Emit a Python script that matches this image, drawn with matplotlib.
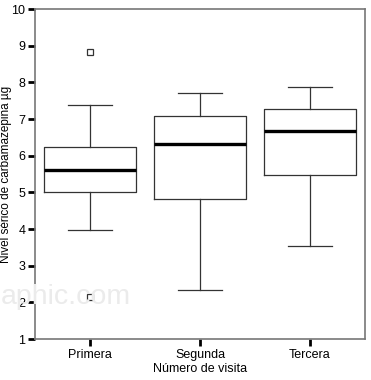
import matplotlib
matplotlib.use("Agg")
import matplotlib.pyplot as plt

plt.rcParams['font.family'] = ['Liberation Sans', 'DejaVu Sans']

visits = ["Primera", "Segunda", "Tercera"]
whislo = [3.98, 2.33, 3.55]
q1 = [5.01, 4.83, 5.47]
med = [5.61, 6.32, 6.67]
q3 = [6.23, 7.08, 7.27]
whishi = [7.38, 7.70, 7.87]
fliers = [[8.83, 2.15], [], []]

stats = []
for i in range(len(visits)):
    stats.append({"label": visits[i], "whislo": whislo[i], "q1": q1[i], "med": med[i],
                  "q3": q3[i], "whishi": whishi[i], "fliers": fliers[i]})

fig = plt.figure(figsize=(3.71, 3.80), dpi=100)
ax = fig.add_axes([35/371, 41/380, 330/371, 330/380])

line_c = "#333333"
ax.bxp(stats, positions=[1, 2, 3], widths=0.845, capwidths=0.4,
       boxprops=dict(color=line_c, lw=0.9),
       whiskerprops=dict(color=line_c, lw=0.9),
       capprops=dict(color=line_c, lw=0.9),
       medianprops=dict(color="black", lw=2.4),
       flierprops=dict(marker="s", markersize=4, markerfacecolor="white",
                       markeredgecolor=line_c, markeredgewidth=0.9))

# faint watermark left over in the source image
fig.text(0.003, 83/380, "aphic.com", fontsize=20.5, color="#ebebeb",
         ha="left", va="center", zorder=0)

ax.set_xlim(0.5, 3.5)
ax.set_ylim(1, 10)
ax.set_yticks(range(1, 11))
ax.set_xticks([1, 2, 3])
ax.set_xticklabels(visits)
ax.tick_params(direction="out", length=5, width=2, labelsize=9, color="black", pad=2)
for s in ax.spines.values():
    s.set_color("#777777")
    s.set_linewidth(1.2)

ax.set_xlabel("Número de visita", fontsize=9, labelpad=2)
ax.set_ylabel("Nivel sérico de carbamazepina µg", fontsize=8.5)
ax.yaxis.set_label_coords(-0.071, 0.5)

fig.savefig("out.png", dpi=100)
